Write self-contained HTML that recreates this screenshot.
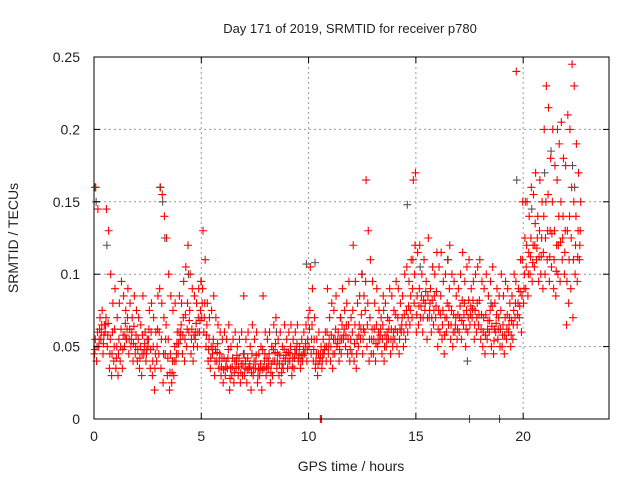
<!DOCTYPE html>
<html><head><meta charset="utf-8"><style>
body{margin:0;background:#fff}
svg{display:block;font-family:"Liberation Sans",sans-serif}
</style></head><body>
<svg id="chart" width="640" height="480" xmlns="http://www.w3.org/2000/svg">
<rect width="640" height="480" fill="#fff"/>
<text x="350" y="33" font-size="13" text-anchor="middle" fill="#222">Day 171 of 2019, SRMTID for receiver p780</text>
<text x="351" y="471" font-size="14" text-anchor="middle" fill="#222">GPS time / hours</text>
<text transform="translate(18,238) rotate(-90)" font-size="14" text-anchor="middle" fill="#222">SRMTID / TECUs</text>
<g id="grid"></g>
<g id="marks"></g>
<g id="axes"></g>
</svg>
<script>
// values in milli-TECU, one per 0.1 h bin starting at 0 h
const binHours = 0.1;
const lowVals = [45,40,50,55,45,60,50,35,30,40, 35,30,40,35,50,55,45,50,40,45, 40,35,30,45,40,50,35,30,20,40, 45,35,25,45,30,20,25,30,40,45, 55,45,40,50,60,45,40,55,50,60, 70,60,50,40,35,45,30,40,35,30, 25,30,35,20,30,25,35,30,25,30, 30,25,35,20,30,35,25,30,20,35, 30,35,25,30,40,35,30,25,35,40, 35,40,30,35,45,40,35,40,45,40, 50,45,40,35,30,40,35,45,40,45, 40,35,45,50,40,45,55,50,45,40, 45,40,35,50,55,45,60,50,40,45, 45,40,50,55,45,40,50,55,45,50, 55,50,45,60,50,55,60,65,70,80, 60,65,70,60,75,55,70,60,65,70, 50,60,55,45,60,65,55,50,60,55, 60,55,65,50,60,65,70,55,60,65, 55,50,45,55,60,50,45,60,55,50, 50,45,55,60,50,55,70,65,70,60, 80,90,85,100,95,105,110,95,100,90, 100,110,95,105,90,85,100,95,110,100, 65,80,90,70,100,95,110];
const mid2Vals = [48,50,55,60,52,65,58,45,45,50, 42,45,50,48,58,62,55,55,52,50, 48,42,45,48,45,55,48,40,35,50, 60,55,45,55,42,32,32,40,45,52, 60,58,55,62,68,55,50,60,60,68, 80,70,58,48,42,50,40,46,40,36, 34,36,42,28,36,32,40,36,32,38, 35,34,36,32,35,40,30,34,34,40, 36,40,32,40,46,40,38,32,42,44, 40,45,36,42,48,42,40,44,48,48, 62,55,48,40,38,42,40,48,50,50, 50,45,55,52,48,55,58,58,55,48, 60,52,45,58,62,55,75,65,55,55, 55,52,55,58,55,50,55,62,55,55, 62,60,55,65,60,65,70,75,90,100, 72,78,78,70,80,70,75,70,75,78, 62,72,65,58,70,78,65,60,65,62, 70,68,72,62,70,72,76,65,70,72, 62,60,58,62,68,64,54,66,62,62, 58,58,62,65,58,65,80,72,78,85, 90,105,100,112,108,120,118,112,112,115, 125,130,112,128,110,102,120,122,125,115, 95,110,125,110,120,112,120];
const midVals = [55,60,62,65,58,70,66,55,60,62, 50,55,62,58,66,70,62,60,64,58, 55,50,58,52,48,62,60,50,45,62, 90,80,70,65,55,45,40,50,52,60, 65,70,72,80,75,62,58,66,70,75, 90,80,65,55,50,55,48,52,45,42, 42,40,48,35,42,40,44,42,38,45, 40,42,38,45,40,44,35,38,48,45, 42,45,38,48,52,45,44,38,48,46, 46,50,42,48,52,45,44,48,52,55, 75,65,55,45,45,45,45,50,60,55, 58,55,62,55,55,65,62,65,65,55, 75,65,55,65,72,62,95,80,70,62, 62,65,60,62,65,58,60,68,62,60, 72,70,62,70,72,75,78,85,110,120, 85,90,85,82,88,85,80,82,85,88, 75,85,75,70,80,90,75,72,70,72, 78,82,80,75,82,78,82,75,80,82, 72,70,72,68,75,78,62,72,70,75, 65,70,72,70,68,75,95,80,88,110, 100,120,115,125,120,135,125,130,125,140, 150,155,130,150,130,120,140,150,140,130, 130,140,160,150,140,130,130];
const highVals = [160,145,70,75,65,145,130,100,80,90, 70,80,95,85,75,90,80,70,85,75, 70,65,85,60,55,75,80,70,60,85, 160,155,140,125,100,85,75,80,60,85, 80,95,105,120,100,90,85,80,90,95, 130,110,80,70,75,85,70,65,60,55, 60,55,65,50,55,60,50,55,60,85, 55,60,50,65,55,60,45,50,85,60, 55,60,50,65,70,55,60,50,65,55, 60,65,55,60,65,50,55,60,65,70, 105,90,70,55,60,50,55,60,90,70, 80,75,85,60,70,90,75,80,95,70, 120,95,80,85,100,85,165,130,110,95, 80,90,75,70,85,80,70,90,85,75, 95,90,80,85,100,105,95,110,165,170, 115,120,100,110,95,125,90,105,100,115, 105,115,95,100,110,120,100,95,85,90, 100,115,95,105,110,90,95,100,105,110, 95,90,100,85,95,105,80,90,85,100, 85,95,90,80,85,100,240,90,110,150, 125,150,140,160,155,170,140,165,150,200, 230,215,180,200,175,165,190,205,180,175, 210,200,245,230,190,170,150];
const greyTimes = [0.05,0.1,0.6,3.1,3.2,3.3,4.4,5,9.9,10.3,12.5,14.6,15.2,16.5,17.4,17.5,19.7,20.1,20.4,21,21.3,21.6,22.3,22.4,1.5,7.0,8.5,11.5,13.5,18.5];
const greyVals = [160,150,120,160,150,125,100,95,107,108,100,148,105,110,40,0,165,150,145,170,185,200,175,160,55,45,60,70,75,80];
const zeroTimes = [10.55,10.6,18.9];
const zeroVals = [0,0,0];
const xTicks = [0,5,10,15,20];
const yTicks = [0,0.05,0.1,0.15,0.2,0.25];
const yTickLabels = ["0","0.05","0.1","0.15","0.2","0.25"];

const L=94,R=609,T=57,B=419, XMAX=24, YMAX=0.25;
const xs = t => L + (R-L)*t/XMAX;
const ys = v => B - (B-T)*v/YMAX;
const NS="http://www.w3.org/2000/svg";
function mk(tag, parent, attrs){const e=document.createElementNS(NS,tag);for(const k in attrs)e.setAttribute(k,attrs[k]);parent.appendChild(e);return e;}
const grid=document.getElementById('grid'), marks=document.getElementById('marks'), axes=document.getElementById('axes');
xTicks.forEach(t=>{
  if(t>0){const g=mk('line',grid,{x1:xs(t),x2:xs(t),y1:T,y2:B,stroke:'#999','stroke-dasharray':'2,3'});
  
  }
  const a=mk('line',axes,{x1:xs(t),x2:xs(t),y1:B,y2:B-6,stroke:'#000'});
  
  
  const b=mk('line',axes,{x1:xs(t),x2:xs(t),y1:T,y2:T+6,stroke:'#000'});
  
  
  const tx=mk('text',axes,{x:xs(t),y:B+22,'font-size':14,'text-anchor':'middle',fill:'#222'});
  tx.textContent=String(t);
  
  
});
yTicks.forEach((v,i)=>{
  if(v>0&&v<YMAX){const g=mk('line',grid,{x1:L,x2:R,y1:ys(v),y2:ys(v),stroke:'#999','stroke-dasharray':'2,3'});
  
  }
  const a=mk('line',axes,{x1:L,x2:L+6,y1:ys(v),y2:ys(v),stroke:'#000'});
  
  
  const b=mk('line',axes,{x1:R,x2:R-6,y1:ys(v),y2:ys(v),stroke:'#000'});
  
  
  const tx=mk('text',axes,{x:L-14,y:ys(v)+5,'font-size':14,'text-anchor':'end',fill:'#222'});
  tx.textContent=yTickLabels[i];
  
  
});
const frame=mk('rect',axes,{x:L,y:T,width:R-L,height:B-T,fill:'none',stroke:'#000'});


function plus(t,v,color,name){
  const x=xs(t),y=ys(v);
  const p=mk('path',marks,{d:`M${x-4},${y}H${x+4}M${x},${y-4}V${y+4}`,stroke:color,'stroke-width':1.1,fill:'none'});
  
  
}
greyTimes.forEach((t,i)=>plus(t,greyVals[i]/1000,'#555','grey-point'));
const offsets=[0.02,0.04,0.06,0.08];
[lowVals,mid2Vals,midVals,highVals].forEach((arr,k)=>arr.forEach((v,i)=>plus(i*binHours+offsets[k],v/1000,'#f00','srmtid-point')));
zeroTimes.forEach((t,i)=>plus(t,zeroVals[i],'#f00','zero-point'));
</script>
</body></html>
